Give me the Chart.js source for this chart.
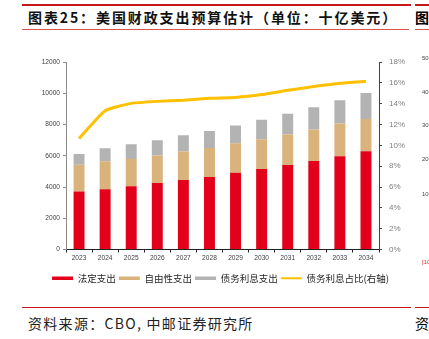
<!DOCTYPE html>
<html>
<head>
<meta charset="utf-8">
<script src="https://cdn.jsdelivr.net/npm/chart.js@4/dist/chart.umd.min.js"></script>
<style>
  html, body { margin: 0; padding: 0; background: #fff; }
  body { width: 429px; height: 339px; position: relative; overflow: hidden; font-family: "Noto Sans CJK SC", sans-serif; }
  .rule { position: absolute; left: 22px; height: 0; }
  #title { position: absolute; left: 28px; top: 7px; font-size: 14px; font-weight: 700; letter-spacing: 1.9px; color: #111; white-space: nowrap; line-height: 20px; }
  #source { position: absolute; left: 28px; top: 313px; font-size: 14px; letter-spacing: 1.3px; color: #222; white-space: nowrap; line-height: 20px; }
  .frag { position: absolute; white-space: nowrap; }
  .tick2 { position: absolute; left: 422px; font: 6px "Liberation Sans", Arial, sans-serif; color: #444; }
  #wrap { position: absolute; left: 0; top: 40px; width: 429px; height: 257px; }
</style>
</head>
<body>
<div class="rule" style="top:4px; width:389px; border-top:2px solid #c8161d;"></div>
<div class="rule" style="top:4px; left:415px; width:14px; border-top:2px solid #c8161d;"></div>
<div class="rule" style="top:29px; width:387px; border-top:1px solid #d9534f;"></div>
<div class="rule" style="top:29px; left:415px; width:14px; border-top:1px solid #d9534f;"></div>
<div id="title">图表25：美国财政支出预算估计（单位：十亿美元）</div>
<div class="frag" style="left:415px; top:7px; font-size:14px; font-weight:700; line-height:20px;">图</div>

<div id="wrap"><canvas id="chart" width="429" height="257"></canvas></div>

<span class="tick2" style="top:55px;">50</span>
<span class="tick2" style="top:89px;">40</span>
<span class="tick2" style="top:122px;">30</span>
<span class="tick2" style="top:156px;">20</span>
<span class="tick2" style="top:191px;">10</span>
<span class="tick2" style="top:259px; color:#e03030;">[10</span>

<div class="rule" style="top:307px; width:389px; border-top:1.5px solid #c8161d;"></div>
<div class="rule" style="top:307px; left:415px; width:14px; border-top:1.5px solid #c8161d;"></div>
<div id="source">资料来源：CBO, 中邮证券研究所</div>
<div class="frag" style="left:415px; top:313px; font-size:14px; line-height:20px;">资</div>

<script>
const years = ['2023', '2024', '2025', '2026', '2027', '2028', '2029', '2030', '2031', '2032', '2033', '2034'];
const mandatory = [3714, 3863, 4056, 4249, 4442, 4635, 4914, 5150, 5408, 5665, 5966, 6288];
const discretionary = [1716, 1781, 1738, 1760, 1824, 1867, 1889, 1911, 1954, 2018, 2104, 2061];
const netInterest = [686, 838, 946, 988, 1053, 1075, 1138, 1244, 1329, 1415, 1479, 1672];
const interestShare = [10.65, 13.32, 14.03, 14.22, 14.32, 14.51, 14.6, 14.87, 15.28, 15.64, 15.96, 16.15];
const leftTicks = [0, 2000, 4000, 6000, 8000, 10000, 12000];
const rightTicks = [0, 2, 4, 6, 8, 10, 12, 14, 16, 18];

const RED = '#e2001a', TAN = '#d9b27c', GRAY = '#b3b3b3', GOLD = '#ffc000';
const colors = [RED, TAN, GRAY, GOLD];
const tickFont = { family: '"Liberation Sans", Arial, sans-serif', size: 6.6 };

const ctx = document.getElementById('chart').getContext('2d');

new Chart(ctx, {
  type: 'bar',
  data: {
    labels: years,
    datasets: [
      { label: '法定支出', data: mandatory, backgroundColor: RED, yAxisID: 'y', order: 1 },
      { label: '自由性支出', data: discretionary, backgroundColor: TAN, yAxisID: 'y', order: 1 },
      { label: '债务利息支出', data: netInterest, backgroundColor: GRAY, yAxisID: 'y', order: 1 },
      {
        type: 'line', label: '债务利息占比(右轴)', data: interestShare, yAxisID: 'y1', order: 0,
        borderColor: GOLD, borderWidth: 3, pointRadius: 0, tension: 0.15, fill: false
      }
    ]
  },
  options: {
    responsive: false,
    animation: false,
    events: [],
    datasets: { bar: { barPercentage: 0.42, categoryPercentage: 1 } },
    layout: { padding: { left: 12, right: 0, top: 22, bottom: 4 } },
    plugins: {
      tooltip: { enabled: false },
      legend: {
        position: 'bottom',
        labels: {
          usePointStyle: true,
          pointStyleWidth: 21,
          boxHeight: 9,
          padding: 3,
          color: '#262626',
          font: { family: '"Noto Sans CJK SC", sans-serif', size: 9.5 },
          generateLabels: chart => chart.data.datasets.map((ds, i) => ({
            text: ds.label,
            fillStyle: colors[i],
            strokeStyle: colors[i],
            lineWidth: i < 3 ? 3.5 : 2,
            pointStyle: 'line',
            hidden: false,
            datasetIndex: i,
            fontColor: '#262626'
          }))
        }
      }
    },
    scales: {
      x: {
        stacked: true,
        grid: { display: true, drawOnChartArea: false, offset: true, tickLength: 3, color: '#222' },
        border: { color: '#222', width: 1 },
        ticks: { font: tickFont, color: '#404040', padding: 2, maxRotation: 0 },
        afterFit: s => { s.height = 21; }
      },
      y: {
        stacked: true,
        position: 'left',
        min: 0,
        max: 12000,
        afterBuildTicks: s => { s.ticks = leftTicks.map(v => ({ value: v })); },
        grid: { display: true, drawOnChartArea: false, tickLength: 3, color: '#8c8c8c' },
        border: { color: '#8c8c8c', width: 1 },
        ticks: { font: tickFont, color: '#404040', padding: 3, callback: v => String(v) },
        afterFit: s => { s.width = 54; }
      },
      y1: {
        position: 'right',
        min: 0,
        max: 18,
        afterBuildTicks: s => { s.ticks = rightTicks.map(v => ({ value: v })); },
        grid: { display: true, drawOnChartArea: false, tickLength: 3, color: '#444' },
        border: { color: '#444', width: 1 },
        ticks: {
          font: { family: '"Liberation Sans", Arial, sans-serif', size: 8 },
          color: '#808080',
          padding: 7,
          callback: v => v + '%'
        },
        afterFit: s => { s.width = 50; }
      }
    }
  }
});
</script>
</body>
</html>
